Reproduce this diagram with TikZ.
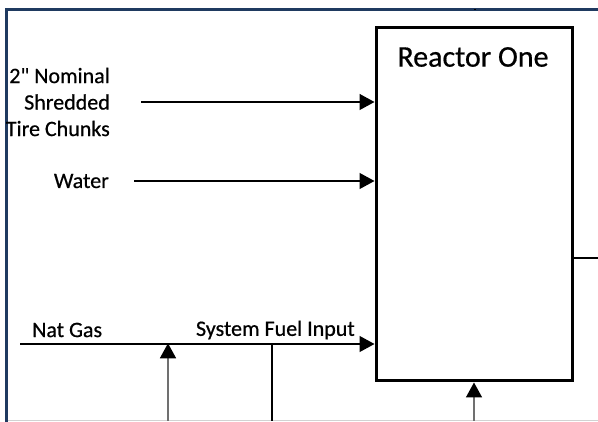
\documentclass[tikz,border=0pt]{standalone}
\usepackage{fontspec}
\setmainfont[FakeBold=0.6]{Carlito}
\usetikzlibrary{arrows.meta}
\definecolor{framecol}{HTML}{1F3A60}
\definecolor{linegray}{HTML}{707070}
\tikzset{
  px/.style={x=1pt,y=-1pt},
  lbl/.style={font=\fontsize{22}{26.5}\selectfont, inner sep=0pt, text=black},
  flow/.style={line width=1.4pt, draw=black, -{Triangle[length=15pt,width=16pt]}},
  grayflow/.style={line width=1.6pt, draw=linegray, -{Triangle[length=15pt,width=16pt,fill=black,color=black]}},
  plain/.style={line width=1.4pt, draw=black},
  reactorbox/.style={draw=black, line width=3pt, minimum width=196pt, minimum height=353pt, inner sep=0pt}
}
\begin{document}
\begin{tikzpicture}[px]
\useasboundingbox (0,0) rectangle (598,422);
\fill[white] (0,0) rectangle (598,422);
% frame
\draw[framecol, line width=3pt] (6,422) -- (6,9.5) -- (598,9.5);
\draw[lightgray!70, line width=1pt] (8,421) -- (598,421);
% reactor
\node[reactorbox] (R) at (474,204.5) {};
\node[lbl, font=\fontsize{30}{36}\selectfont] (Rlbl) at (473,57) {Reactor One};
% labels
\node[lbl, align=right, anchor=east] (tire) at (110,102) {2\textquotedbl{} Nominal\\Shredded\\Tire Chunks};
\node[lbl, anchor=east] (water) at (109,181) {Water};
\node[lbl, anchor=west] (natgas) at (32,330) {Nat Gas};
\node[lbl, anchor=east] (sfi) at (355,330) {System Fuel Input};
% coordinates
\coordinate (t0) at (141,102);
\coordinate (w0) at (134,181);
\coordinate (g0) at (20,344);
\coordinate (v1b) at (168,421);
\coordinate (v1t) at (168,344);
\coordinate (v2t) at (272,344);
\coordinate (v2b) at (272,421);
\coordinate (bb) at (474,421);
\coordinate (top) at (476,9.5);
\coordinate (rt) at (598,258);
% flows
\draw[flow] (t0) -- (t0 -| R.west);
\draw[flow] (w0) -- (w0 -| R.west);
\draw[flow] (g0) -- (g0 -| R.west);
\draw[grayflow] (v1b) -- ([yshift=0.7pt]v1t);
\draw[plain] (v2t) -- (v2b);
\draw[grayflow] (bb) -- (bb |- R.south);
\draw[plain] (top -| R.north) -- (top);
\draw[plain] (rt -| R.east) -- (rt);
\end{tikzpicture}
\end{document}
